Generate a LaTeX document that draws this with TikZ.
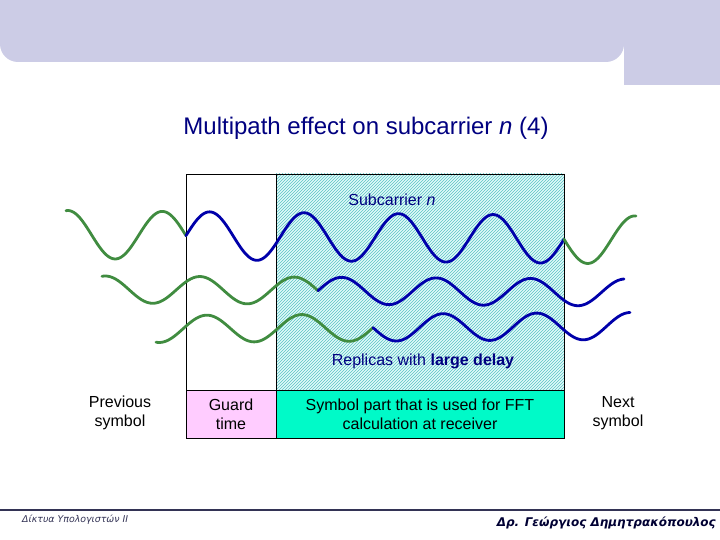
\documentclass[tikz,border=0pt]{standalone}
\usepackage{fontspec}
\setmainfont{Liberation Sans}
\newfontfamily\footfont{DejaVu Sans}
\usetikzlibrary{patterns}
\definecolor{bannerc}{RGB}{204,204,230}
\definecolor{navy}{RGB}{0,0,128}
\definecolor{wgreen}{RGB}{64,140,64}
\definecolor{wblue}{RGB}{0,0,170}
\definecolor{hatchbg}{RGB}{225,250,250}
\definecolor{hatchc}{RGB}{90,195,195}
\definecolor{pinkc}{RGB}{255,204,255}
\definecolor{fftc}{RGB}{0,250,200}
\definecolor{footline}{RGB}{51,51,85}
\tikzset{
  gwave/.style={wgreen, line width=2.8pt, line join=round, line cap=round},
  bwave/.style={wblue, line width=2.8pt, line join=round, line cap=round},
  lbl/.style={font=\fontsize{16}{19}\selectfont, align=center, inner sep=0pt},
  lowbox/.style={draw=black, line width=0.8pt, minimum height=48pt, inner sep=0pt, font=\fontsize{16}{19}\selectfont, align=center},
}
\begin{document}
\begin{tikzpicture}[x=1pt,y=-1pt]
\useasboundingbox (0,0) rectangle (720,540);
% banner
\fill[bannerc] (624,0) -- (0,0) [rounded corners=18pt] -- (0,62) -- (624,62) [sharp corners] -- (624,0) -- cycle;
\fill[bannerc] (624,0) rectangle (720,85);
% title
\node[navy, font=\fontsize{24}{28}\selectfont, inner sep=0pt] (title) at (366,128) {Multipath effect on subcarrier \textit{n} (4)};
% upper boxes
\draw[black, line width=0.8pt] (186,174) rectangle (276,390);
\fill[hatchbg] (276,174) rectangle (564,390);
\fill[pattern=north east lines, pattern color=hatchc] (276,174) rectangle (564,390);
\draw[black, line width=0.8pt] (276,174) rectangle (564,390);
\node[navy, font=\fontsize{16}{19}\selectfont, inner sep=0pt] (sub) at (392,200) {Subcarrier \textit{n}};
\node[navy, font=\fontsize{16}{19}\selectfont, inner sep=0pt] (rep) at (423,361) {Replicas with \textbf{large delay}};
% wave 1
\draw[gwave] plot[domain=66:186, samples=80] (\x, {234.5+(\x-66)*0.0095 + 24*sin((\x-186)/94.5*360)});
\draw[bwave] plot[domain=186:564, samples=240] (\x, {234.5+(\x-66)*0.0095 - 24*sin((\x-186)/94.5*360)});
\draw[gwave] plot[domain=564:636, samples=60] (\x, {234.5+(\x-66)*0.0095 + 24*sin((\x-564)/94.5*360)});
% wave 2
\draw[gwave] plot[domain=102:318, samples=140] (\x, {289.5+(\x-102)*0.0057 + 13.5*sin((\x-318)/94.5*360)});
\draw[bwave] plot[domain=318:624, samples=200] (\x, {289.5+(\x-102)*0.0057 - 13.5*sin((\x-318)/94.5*360)});
% wave 3
\draw[gwave] plot[domain=156:373, samples=140] (\x, {329-(\x-156)*0.0063 - 13.5*sin((\x-373)/95*360)});
\draw[bwave] plot[domain=373:630, samples=170] (\x, {329-(\x-156)*0.0063 + 13.5*sin((\x-373)/93.5*360)});
% lower boxes
\node[lowbox, fill=pinkc, minimum width=90pt] (guard) at (231,414) {Guard\\time};
\node[lowbox, fill=fftc, minimum width=288pt] (fft) at (420,414) {Symbol part that is used for FFT\\calculation at receiver};
\node[lbl] (prev) at (120,413) {Previous\\symbol};
\node[lbl] (next) at (618,413) {Next\\symbol};
% footer
\draw[footline, line width=1.2pt] (0,510) -- (720,510);
\node[anchor=west, inner sep=0pt, text=footline, font=\footfont\fontsize{9.4}{11}\selectfont\itshape] (fl) at (22,520) {Δίκτυα Υπολογιστών ΙΙ};
\node[anchor=east, inner sep=0pt, text={rgb,255:red,0;green,0;blue,51}, font=\footfont\fontsize{12}{14}\selectfont\bfseries\itshape] (fr) at (716,523) {Δρ. Γεώργιος Δημητρακόπουλος};
\end{tikzpicture}
\end{document}
